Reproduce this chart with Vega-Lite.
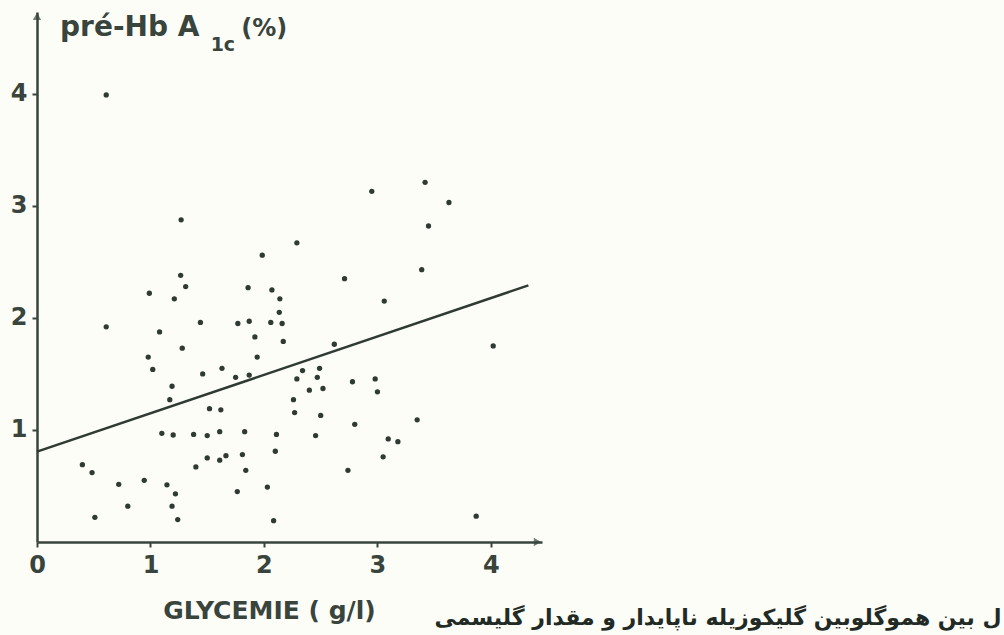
{
  "$schema": "https://vega.github.io/schema/vega-lite/v6.json",
  "width": 505,
  "height": 530,
  "autosize": {"type": "none"},
  "padding": {"left": 37, "top": 12, "right": 462, "bottom": 93},
  "background": "#fdfdf8",
  "config": {
    "view": {"stroke": null},
    "axis": {
      "grid": false,
      "domainColor": "#38443c",
      "domainWidth": 2.5,
      "tickColor": "#38443c",
      "tickWidth": 2,
      "tickSize": 5,
      "labelFont": "DejaVu Sans",
      "labelFontWeight": "bold",
      "labelFontSize": 24,
      "labelColor": "#38443c",
      "labelOverlap": false,
      "labelFlush": false,
      "format": "d"
    }
  },
  "layer": [
    {
      "data": {"values": [
        {"g": 0.61, "h": 3.99}, {"g": 1.27, "h": 2.875}, {"g": 2.29, "h": 2.67}, {"g": 1.985, "h": 2.56},
        {"g": 1.266, "h": 2.38}, {"g": 1.31, "h": 2.28}, {"g": 0.99, "h": 2.22}, {"g": 1.21, "h": 2.17},
        {"g": 1.86, "h": 2.27}, {"g": 2.07, "h": 2.25}, {"g": 2.14, "h": 2.17}, {"g": 3.42, "h": 3.21},
        {"g": 2.95, "h": 3.13}, {"g": 3.63, "h": 3.03}, {"g": 3.45, "h": 2.82}, {"g": 2.71, "h": 2.35},
        {"g": 3.39, "h": 2.43}, {"g": 3.06, "h": 2.15}, {"g": 2.135, "h": 2.05}, {"g": 0.61, "h": 1.92},
        {"g": 1.08, "h": 1.875}, {"g": 1.44, "h": 1.96}, {"g": 1.77, "h": 1.95}, {"g": 1.87, "h": 1.97},
        {"g": 2.06, "h": 1.96}, {"g": 2.16, "h": 1.95}, {"g": 1.92, "h": 1.83}, {"g": 2.17, "h": 1.79},
        {"g": 1.28, "h": 1.73}, {"g": 0.98, "h": 1.65}, {"g": 1.94, "h": 1.65}, {"g": 1.02, "h": 1.54},
        {"g": 1.46, "h": 1.5}, {"g": 1.63, "h": 1.55}, {"g": 1.75, "h": 1.47}, {"g": 1.87, "h": 1.49},
        {"g": 2.29, "h": 1.455}, {"g": 1.19, "h": 1.39}, {"g": 1.17, "h": 1.27}, {"g": 2.26, "h": 1.27},
        {"g": 1.52, "h": 1.19}, {"g": 1.62, "h": 1.18}, {"g": 2.27, "h": 1.155}, {"g": 1.1, "h": 0.97},
        {"g": 1.2, "h": 0.955}, {"g": 1.38, "h": 0.96}, {"g": 1.5, "h": 0.95}, {"g": 1.61, "h": 0.985},
        {"g": 1.83, "h": 0.985}, {"g": 2.11, "h": 0.96}, {"g": 2.1, "h": 0.81}, {"g": 0.4, "h": 0.69},
        {"g": 0.485, "h": 0.62}, {"g": 1.5, "h": 0.75}, {"g": 1.61, "h": 0.73}, {"g": 1.665, "h": 0.77},
        {"g": 1.81, "h": 0.78}, {"g": 1.4, "h": 0.67}, {"g": 1.84, "h": 0.64}, {"g": 0.72, "h": 0.515},
        {"g": 0.945, "h": 0.55}, {"g": 1.145, "h": 0.51}, {"g": 1.22, "h": 0.43}, {"g": 2.03, "h": 0.49},
        {"g": 1.765, "h": 0.45}, {"g": 0.8, "h": 0.32}, {"g": 1.19, "h": 0.32}, {"g": 0.51, "h": 0.22},
        {"g": 1.24, "h": 0.2}, {"g": 2.085, "h": 0.19}, {"g": 2.62, "h": 1.765}, {"g": 4.02, "h": 1.75},
        {"g": 2.34, "h": 1.53}, {"g": 2.49, "h": 1.55}, {"g": 2.47, "h": 1.47}, {"g": 2.4, "h": 1.355},
        {"g": 2.52, "h": 1.37}, {"g": 2.78, "h": 1.43}, {"g": 2.98, "h": 1.455}, {"g": 3.0, "h": 1.34},
        {"g": 2.5, "h": 1.13}, {"g": 2.8, "h": 1.05}, {"g": 3.35, "h": 1.09}, {"g": 2.455, "h": 0.95},
        {"g": 3.095, "h": 0.92}, {"g": 3.18, "h": 0.895}, {"g": 3.05, "h": 0.76}, {"g": 2.74, "h": 0.64},
        {"g": 3.87, "h": 0.23}
      ]},
      "mark": {"type": "point", "shape": "circle", "filled": true, "size": 28, "color": "#2f3a33", "opacity": 1},
      "encoding": {
        "x": {"field": "g", "type": "quantitative", "scale": {"domain": [0, 4.45], "nice": false, "zero": false},
              "axis": {"values": [0, 1, 2, 3, 4], "labelPadding": 6, "title": "GLYCEMIE ( g/l)", "titleFont": "DejaVu Sans", "titleFontWeight": "bold", "titleFontSize": 25, "titleColor": "#38443c", "titleX": 232, "titleY": 76, "titleBaseline": "alphabetic", "titleAlign": "center"}},
        "y": {"field": "h", "type": "quantitative", "scale": {"domain": [0, 4.73], "nice": false, "zero": false},
              "axis": {"values": [1, 2, 3, 4], "labelPadding": 5, "title": null}}
      }
    },
    {
      "data": {"values": [{"g": 0, "h": 0.806}, {"g": 4.33, "h": 2.29}]},
      "mark": {"type": "line", "color": "#2f3a33", "strokeWidth": 2.5},
      "encoding": {
        "x": {"field": "g", "type": "quantitative", "title": "GLYCEMIE ( g/l)"},
        "y": {"field": "h", "type": "quantitative", "title": null}
      }
    },
    {
      "data": {"values": [{}]},
      "mark": {"type": "point", "shape": "triangle-right", "filled": true, "size": 70, "color": "#38443c"},
      "encoding": {"x": {"datum": 4.41}, "y": {"datum": 0}}
    },
    {
      "data": {"values": [{}]},
      "mark": {"type": "point", "shape": "triangle-up", "filled": true, "size": 70, "color": "#38443c"},
      "encoding": {"x": {"datum": 0}, "y": {"datum": 4.69}}
    },
    {
      "data": {"values": [{}]},
      "mark": {"type": "text", "text": "pré-Hb A", "font": "DejaVu Sans", "fontWeight": "bold", "fontSize": 28, "align": "left", "baseline": "alphabetic", "color": "#38443c"},
      "encoding": {"x": {"datum": 0.203}, "y": {"datum": 4.52}}
    },
    {
      "data": {"values": [{}]},
      "mark": {"type": "text", "text": "1c", "font": "DejaVu Sans", "fontWeight": "bold", "fontSize": 19, "align": "left", "baseline": "alphabetic", "color": "#38443c"},
      "encoding": {"x": {"datum": 1.53}, "y": {"datum": 4.38}}
    },
    {
      "data": {"values": [{}]},
      "mark": {"type": "text", "text": "(%)", "font": "DejaVu Sans", "fontWeight": "bold", "fontSize": 24, "align": "left", "baseline": "alphabetic", "color": "#38443c"},
      "encoding": {"x": {"datum": 1.8}, "y": {"datum": 4.52}}
    },
    {
      "data": {"values": [{}]},
      "mark": {"type": "text", "text": "ل بین هموگلوبین گلیکوزیله ناپایدار و مقدار گلیسمی", "font": "DejaVu Sans", "fontWeight": "bold", "fontSize": 22, "align": "right", "baseline": "alphabetic", "color": "#222a25"},
      "encoding": {"x": {"datum": 8.5}, "y": {"datum": -0.74}}
    }
  ]
}
